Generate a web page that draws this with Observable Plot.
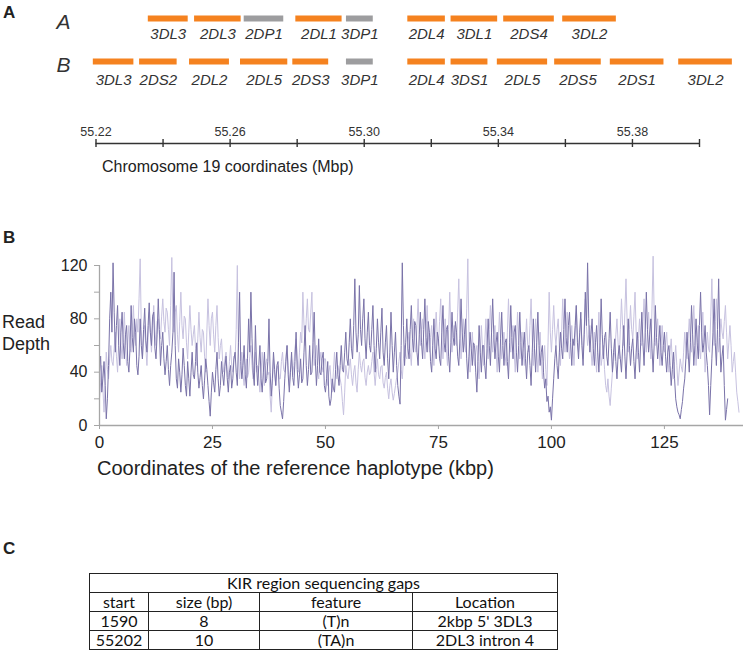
<!DOCTYPE html>
<html><head><meta charset="utf-8">
<script src="https://cdn.jsdelivr.net/npm/d3@7"></script>
<script src="https://cdn.jsdelivr.net/npm/@observablehq/plot@0.6"></script>
<style>
body{margin:0;background:#fff;font-family:"Liberation Sans",Arial,sans-serif;color:#222;}
#wrap{position:relative;width:744px;height:660px;overflow:hidden;background:#fff;}
.abs{position:absolute;line-height:1;white-space:nowrap;}
#gaps{position:absolute;left:89px;top:573px;border-collapse:collapse;font-family:Lato,"Open Sans",sans-serif;font-size:16px;color:#111;}
#gaps td,#gaps th{border:1px solid #222;text-align:center;padding:0;height:18px;line-height:18px;font-weight:normal;}
</style></head><body><div id="wrap"></div>
<script>
// ---------- Panel A : haplotype gene maps (Chromosome 19, Mbp) ----------
const haplotypes = ["A", "B"];
const genesAName  = ["3DL3","2DL3","2DP1","2DL1","3DP1","2DL4","3DL1","2DS4","3DL2"];
const genesAStart = [55.2356,55.2494,55.2642,55.2796,55.2947,55.3130,55.3259,55.3416,55.3592];
const genesAEnd   = [55.2475,55.2633,55.2760,55.2934,55.3027,55.3242,55.3398,55.3567,55.3752];
const genesAKind  = ["gene","gene","pseudogene","gene","pseudogene","gene","gene","gene","gene"];
const genesBName  = ["3DL3","2DS2","2DL2","2DL5","2DS3","3DP1","2DL4","3DS1","2DL5","2DS5","2DS1","3DL2"];
const genesBStart = [55.2192,55.2330,55.2479,55.2631,55.2787,55.2947,55.3130,55.3259,55.3397,55.3568,55.3734,55.3938];
const genesBEnd   = [55.2313,55.2442,55.2598,55.2772,55.2894,55.3027,55.3242,55.3369,55.3547,55.3707,55.3894,55.4098];
const genesBKind  = ["gene","gene","gene","gene","gene","pseudogene","gene","gene","gene","gene","gene","gene"];
const chromTicks  = [55.22,55.24,55.26,55.28,55.30,55.32,55.34,55.36,55.38,55.40];
const chromLabels = [55.22,55.26,55.30,55.34,55.38];

// ---------- Panel B : read depth along the reference haplotype ----------
const depthStep = 0.25; // kbp between samples
const depthDark = [
 40,52,25,35,48,30,5,20,45,80,100,70,122,85,55,75,90,60,45,70,
 85,62,50,68,75,48,40,58,90,66,55,80,70,45,38,52,80,60,50,72,
 88,64,55,75,92,70,60,82,85,58,50,68,95,72,45,60,70,50,38,48,
 60,42,30,45,55,70,115,60,35,28,50,40,25,38,58,45,30,22,48,35,
 22,40,55,38,35,48,62,40,28,36,45,30,20,34,50,42,30,18,7,25,
 40,32,25,42,55,35,22,30,48,38,30,44,52,36,25,40,45,28,35,50,
 55,40,30,62,100,48,35,45,60,38,28,50,80,55,100,65,40,30,75,45,
 30,45,60,35,25,40,55,32,35,48,80,40,22,35,55,42,30,45,48,28,
 15,10,5,18,35,48,60,38,25,40,55,36,30,48,70,42,28,38,50,32,
 35,55,75,45,30,42,60,38,40,62,85,50,30,45,65,40,38,50,55,30,
 25,35,48,22,15,20,35,28,25,42,55,38,30,45,60,42,40,55,70,50,
 45,62,80,58,50,75,110,70,55,68,105,72,60,80,95,65,50,70,85,60,
 55,72,90,60,40,58,80,62,50,70,88,55,45,62,75,50,35,55,85,60,
 40,55,70,45,30,22,16,60,122,75,45,62,80,58,50,72,90,65,55,78,
 75,55,45,68,85,62,50,72,95,66,55,78,70,48,40,60,80,58,50,70,
 65,50,45,70,90,62,55,72,75,52,40,62,85,66,60,78,70,52,45,65,
 95,70,55,68,80,50,35,52,70,58,45,62,60,40,25,48,75,55,40,60,
 60,45,35,58,80,60,45,70,95,68,50,62,70,52,40,65,85,60,45,62,
 65,48,35,62,90,66,50,70,75,55,40,60,85,62,45,58,70,50,35,55,
 60,45,30,55,80,58,40,62,85,60,45,55,60,40,28,35,18,22,10,14,
 4,20,35,50,60,45,35,55,70,58,50,72,95,66,55,75,85,62,45,65,
 60,75,90,62,50,70,85,60,45,68,100,75,122,80,55,68,80,58,45,62,
 75,55,40,62,95,68,50,66,70,52,45,65,85,58,40,55,65,48,35,52,
 60,50,40,58,75,52,35,55,80,60,45,58,65,48,35,55,70,55,40,62,
 85,62,45,70,100,72,55,68,80,58,40,62,90,66,50,62,75,55,45,60,
 70,52,40,55,60,45,30,42,55,35,20,14,10,8,5,12,18,28,35,50,
 70,55,40,62,90,68,45,60,80,62,50,75,100,70,55,62,75,55,45,30,
 8,30,50,70,95,62,45,72,110,66,40,52,60,30,4,12,20];
const depthLight = [
 20,32,45,28,10,30,55,42,35,50,60,48,45,58,70,52,40,62,80,60,
 50,68,85,60,45,62,75,58,55,72,90,68,60,80,70,95,125,72,50,65,
 75,58,45,66,85,70,55,75,90,72,60,78,80,68,65,82,95,78,70,88,
 85,72,60,90,126,80,70,85,90,68,55,78,100,75,65,82,80,62,50,70,
 90,72,60,68,75,58,45,65,85,66,55,72,70,52,40,70,95,75,60,80,
 85,68,55,75,90,66,50,60,65,48,40,50,55,42,35,48,60,45,40,52,
 50,72,120,55,35,45,55,38,30,42,50,36,40,52,60,45,35,48,55,40,
 45,35,25,40,55,42,30,45,50,38,40,22,10,30,50,38,30,42,45,35,
 35,48,55,42,40,52,60,45,30,42,50,38,45,58,65,50,40,55,70,62,
 100,75,60,80,95,72,70,85,100,62,45,52,60,42,35,48,55,44,40,50,
 50,38,30,40,45,32,25,40,55,42,35,45,40,35,30,18,8,25,45,38,
 35,44,50,38,30,40,45,32,25,42,55,45,40,48,50,36,30,40,45,38,
 40,48,55,40,30,42,50,38,35,44,45,32,28,36,40,28,20,30,35,25,
 19,24,30,36,40,48,55,42,35,50,60,52,50,62,70,55,45,66,80,62,
 55,75,95,70,60,72,80,62,50,70,90,68,55,66,75,56,45,68,85,66,
 60,78,95,68,50,66,80,58,45,72,100,70,55,66,75,62,60,85,110,72,
 50,66,80,62,55,88,125,70,40,55,70,52,45,55,60,45,35,55,75,58,
 45,62,80,60,50,72,90,68,55,66,75,55,40,62,85,66,50,60,70,52,
 45,70,95,68,55,66,75,55,40,62,85,64,50,62,70,55,45,62,80,60,
 55,75,95,66,45,62,80,58,40,55,70,50,35,48,60,42,30,62,100,70,
 55,72,90,70,60,72,80,60,45,70,95,72,55,70,85,64,50,62,75,58,
 45,66,90,68,55,66,80,62,50,72,95,74,60,68,75,56,45,58,70,52,
 40,62,85,60,45,52,60,42,30,25,35,22,15,28,40,48,55,68,80,62,
 50,72,95,75,60,85,110,78,55,72,90,72,65,82,100,70,50,65,80,62,
 60,78,95,70,55,70,85,66,50,88,127,80,60,70,80,62,45,60,75,58,
 55,62,70,52,40,55,65,48,35,48,60,45,30,40,50,44,40,55,70,58,
 50,65,80,62,55,72,90,68,45,60,75,58,50,68,85,62,40,55,70,58,
 55,82,110,75,60,78,95,72,55,66,80,70,65,78,90,70,50,62,75,60,
 40,48,55,40,25,18,10];
const depthXTicks = [0,25,50,75,100,125];
const depthYTicks = [0,20,40,60,80,100,120];
const depthYLabels = [0,40,80,120];

// ---------- Panel C : sequencing gaps table ----------
const gapTitle = "KIR region sequencing gaps";
const gapColumns = ["start","size (bp)","feature","Location"];
const gapStart = [1590, 55202];
const gapSize = [8, 10];
const gapFeature = ["(T)n", "(TA)n"];
const gapLocation = ["2kbp 5' 3DL3", "2DL3 intron 4"];

// ---------- build ----------
const font = "'Liberation Sans', Arial, sans-serif";
const wrap = d3.select("#wrap");
function place(node, top){ node.style.position="absolute"; node.style.left="0px"; node.style.top=top+"px"; wrap.node().appendChild(node); }
function label(text, left, top, size, bold){ wrap.append("div").attr("class","abs").style("left",left+"px").style("top",top+"px").style("font-size",size+"px").style("font-weight",bold?"bold":"normal").text(text); }

const genes = [
  ...genesAName.map((n,i)=>({hap:"A", name:n, start:genesAStart[i], end:genesAEnd[i], kind:genesAKind[i]})),
  ...genesBName.map((n,i)=>({hap:"B", name:n, start:genesBStart[i], end:genesBEnd[i], kind:genesBKind[i]}))
];
const geneText = {y:"hap", x:d=>(d.start+d.end)/2, text:"name", fontSize:15, fontStyle:"italic", fill:"#333"};

const genePlot = Plot.plot({
  width:744, height:100, marginLeft:95.5, marginRight:45, marginTop:0, marginBottom:0,
  style:{fontFamily:font, background:"transparent"},
  x:{domain:[55.22,55.40], axis:null},
  y:{type:"point", domain:haplotypes, range:[17.5,61], padding:0, axis:null},
  color:{domain:["gene","pseudogene"], range:["#f5821f","#9d9d9f"]},
  marks:[
    Plot.ruleY(genes,{y:"hap", x1:"start", x2:"end", stroke:"kind", strokeWidth:6}),
    Plot.text(genes.filter(d=>d.hap==="A"),{...geneText, dy:16}),
    Plot.text(genes.filter(d=>d.hap==="B"),{...geneText, dy:19}),
    Plot.text(haplotypes,{y:d=>d, text:d=>d, frameAnchor:"left", dx:-39.5, dy:4, fontSize:21, fontStyle:"italic", fill:"#333"})
  ]
});
place(genePlot, 0);

const chromPlot = Plot.plot({
  width:744, height:40, marginLeft:95.5, marginRight:45, marginTop:20, marginBottom:12,
  style:{fontFamily:font, background:"transparent"},
  x:{domain:[55.22,55.40], axis:null},
  y:{domain:[-1,1], axis:null},
  marks:[
    Plot.ruleY([0],{x1:d3.min(chromTicks), x2:d3.max(chromTicks), stroke:"#333", strokeWidth:1.4}),
    Plot.tickX(chromTicks,{x:d=>d, stroke:"#333", strokeWidth:1.4}),
    Plot.text(chromLabels,{x:d=>d, text:d=>d.toFixed(2), frameAnchor:"top", dy:-12, fontSize:12.5, fill:"#333"})
  ]
});
place(chromPlot, 119);

const depth = [
  ...depthLight.map((v,i)=>({kbp:i*depthStep, depth:v, sample:"light"})),
  ...depthDark.map((v,i)=>({kbp:i*depthStep, depth:v, sample:"dark"}))
];
const depthPlot = Plot.plot({
  width:744, height:220, marginLeft:99, marginRight:1, marginTop:25, marginBottom:35,
  style:{fontFamily:font, background:"transparent"},
  x:{domain:[0,142.5]},
  y:{domain:[0,120]},
  marks:[
    Plot.lineY(depth.filter(d=>d.sample==="light"),{x:"kbp", y:"depth", stroke:"#c7c2e0", strokeWidth:1}),
    Plot.lineY(depth.filter(d=>d.sample==="dark"),{x:"kbp", y:"depth", stroke:"#7a73a9", strokeWidth:1}),
    Plot.ruleX([0],{stroke:"#a6a6a6", strokeWidth:1.3}),
    Plot.ruleY([0],{stroke:"#a6a6a6", strokeWidth:1.3}),
    Plot.axisY({ticks:depthYTicks, tickFormat:d=>depthYLabels.includes(d)?String(d):"", tickSize:5, tickPadding:7, stroke:"#a6a6a6", fill:"#222", fontSize:16, label:null}),
    Plot.axisX({ticks:depthXTicks, tickSize:4, tickPadding:6, stroke:"#a6a6a6", fill:"#222", fontSize:17, label:null})
  ]
});
place(depthPlot, 240);

// text labels
label("A", 3, 4, 17, true);
label("B", 3, 229, 17, true);
label("C", 3, 540, 17, true);
label("Chromosome 19 coordinates (Mbp)", 102, 159, 16, false);
wrap.append("div").attr("class","abs").style("left","2px").style("top","311px").style("font-size","18px").style("line-height","22px").html("Read<br>Depth");
label("Coordinates of the reference haplotype (kbp)", 97, 458, 20, false);

// table
const tbl = wrap.append("table").attr("id","gaps");
tbl.append("tr").append("th").attr("colspan",4).text(gapTitle);
const widths=[58,110,152,144];
tbl.append("tr").selectAll("td").data(gapColumns).join("td").style("width",(d,i)=>widths[i]+"px").text(d=>d);
gapStart.forEach((s,i)=>{ tbl.append("tr").selectAll("td").data([s,gapSize[i],gapFeature[i],gapLocation[i]]).join("td").text(d=>d); });
</script></body></html>
